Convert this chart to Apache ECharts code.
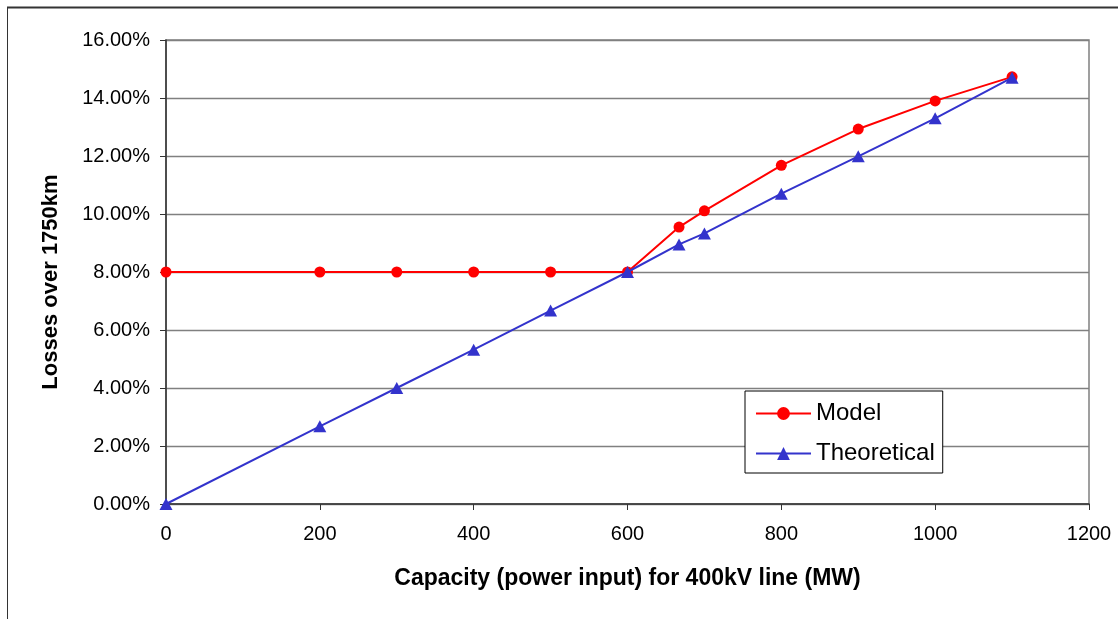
<!DOCTYPE html>
<html>
<head>
<meta charset="utf-8">
<script src="https://cdn.jsdelivr.net/npm/echarts@6/dist/echarts.min.js"></script>
<style>
html,body{margin:0;padding:0;background:#fff;}
#chart{width:1118px;height:619px;}
</style>
</head>
<body>
<div id="chart"></div>
<script>
// Data (losses in percent)
const capacityMW = [0, 200, 300, 400, 500, 600, 667, 700, 800, 900, 1000, 1100];
const modelLosses = [8.00, 8.00, 8.00, 8.00, 8.00, 8.00, 9.55, 10.11, 11.68, 12.93, 13.90, 14.73];
const theoreticalLosses = [0.00, 2.68, 4.00, 5.32, 6.67, 8.00, 8.95, 9.33, 10.70, 11.99, 13.30, 14.70];
const seriesNames = ['Model', 'Theoretical'];
const xAxisTitle = 'Capacity (power input) for 400kV line (MW)';
const yAxisTitle = 'Losses over 1750km';

const chart = echarts.init(document.getElementById('chart'), null, {renderer: 'canvas'});
const font = 'Arial, "Liberation Sans", sans-serif';
chart.setOption({
  animation: false,
  backgroundColor: '#fff',
  graphic: [
    {type: 'line', shape: {x1: 7, y1: 7.5, x2: 1118, y2: 7.5}, style: {stroke: '#333', lineWidth: 2}},
    {type: 'line', shape: {x1: 7.5, y1: 7, x2: 7.5, y2: 619}, style: {stroke: '#333', lineWidth: 1}}
  ],
  grid: {left: 166, right: 29, top: 40, bottom: 115, show: true, borderColor: '#808080', borderWidth: 1.5, backgroundColor: '#fff'},
  legend: {
    orient: 'vertical',
    left: 745, top: 391,
    padding: [9, 8, 6, 10],
    backgroundColor: '#fff',
    borderColor: '#000', borderWidth: 1,
    itemWidth: 55, itemHeight: 16, itemGap: 13,
    textStyle: {fontFamily: font, fontSize: 24, color: '#000', lineHeight: 27},
    data: seriesNames
  },
  xAxis: {
    type: 'value', min: 0, max: 1200, interval: 200,
    name: xAxisTitle, nameLocation: 'middle', nameGap: 63,
    nameTextStyle: {fontFamily: font, fontSize: 23, fontWeight: 'bold', color: '#000'},
    axisLine: {show: true, onZero: false, lineStyle: {color: '#333', width: 1.5}},
    axisTick: {show: true, inside: false, length: 6, lineStyle: {color: '#333'}},
    axisLabel: {fontFamily: font, fontSize: 20, color: '#000', margin: 20,
      formatter: v => String(v)},
    splitLine: {show: false}
  },
  yAxis: {
    type: 'value', min: 0, max: 16, interval: 2,
    name: yAxisTitle, nameLocation: 'middle', nameGap: 104, nameRotate: 90,
    nameTextStyle: {fontFamily: font, fontSize: 22, fontWeight: 'bold', color: '#000', padding: [0, 20, 0, 0]},
    axisLine: {show: true, lineStyle: {color: '#333', width: 1.5}},
    axisTick: {show: true, inside: false, length: 6, lineStyle: {color: '#333'}},
    axisLabel: {fontFamily: font, fontSize: 20, color: '#000', margin: 16,
      formatter: v => v.toFixed(2) + '%'},
    splitLine: {show: true, lineStyle: {color: '#808080', width: 1.3}}
  },
  series: [
    {
      name: seriesNames[0], type: 'line',
      data: capacityMW.map((x, i) => [x, modelLosses[i]]),
      symbol: 'circle', symbolSize: 11,
      itemStyle: {color: '#ff0000'},
      lineStyle: {color: '#ff0000', width: 2},
      z: 3
    },
    {
      name: seriesNames[1], type: 'line',
      data: capacityMW.map((x, i) => [x, theoreticalLosses[i]]),
      symbol: 'triangle', symbolSize: [13, 12],
      itemStyle: {color: '#3333cc'},
      lineStyle: {color: '#3333cc', width: 2},
      z: 4
    }
  ]
});
</script>
</body>
</html>
